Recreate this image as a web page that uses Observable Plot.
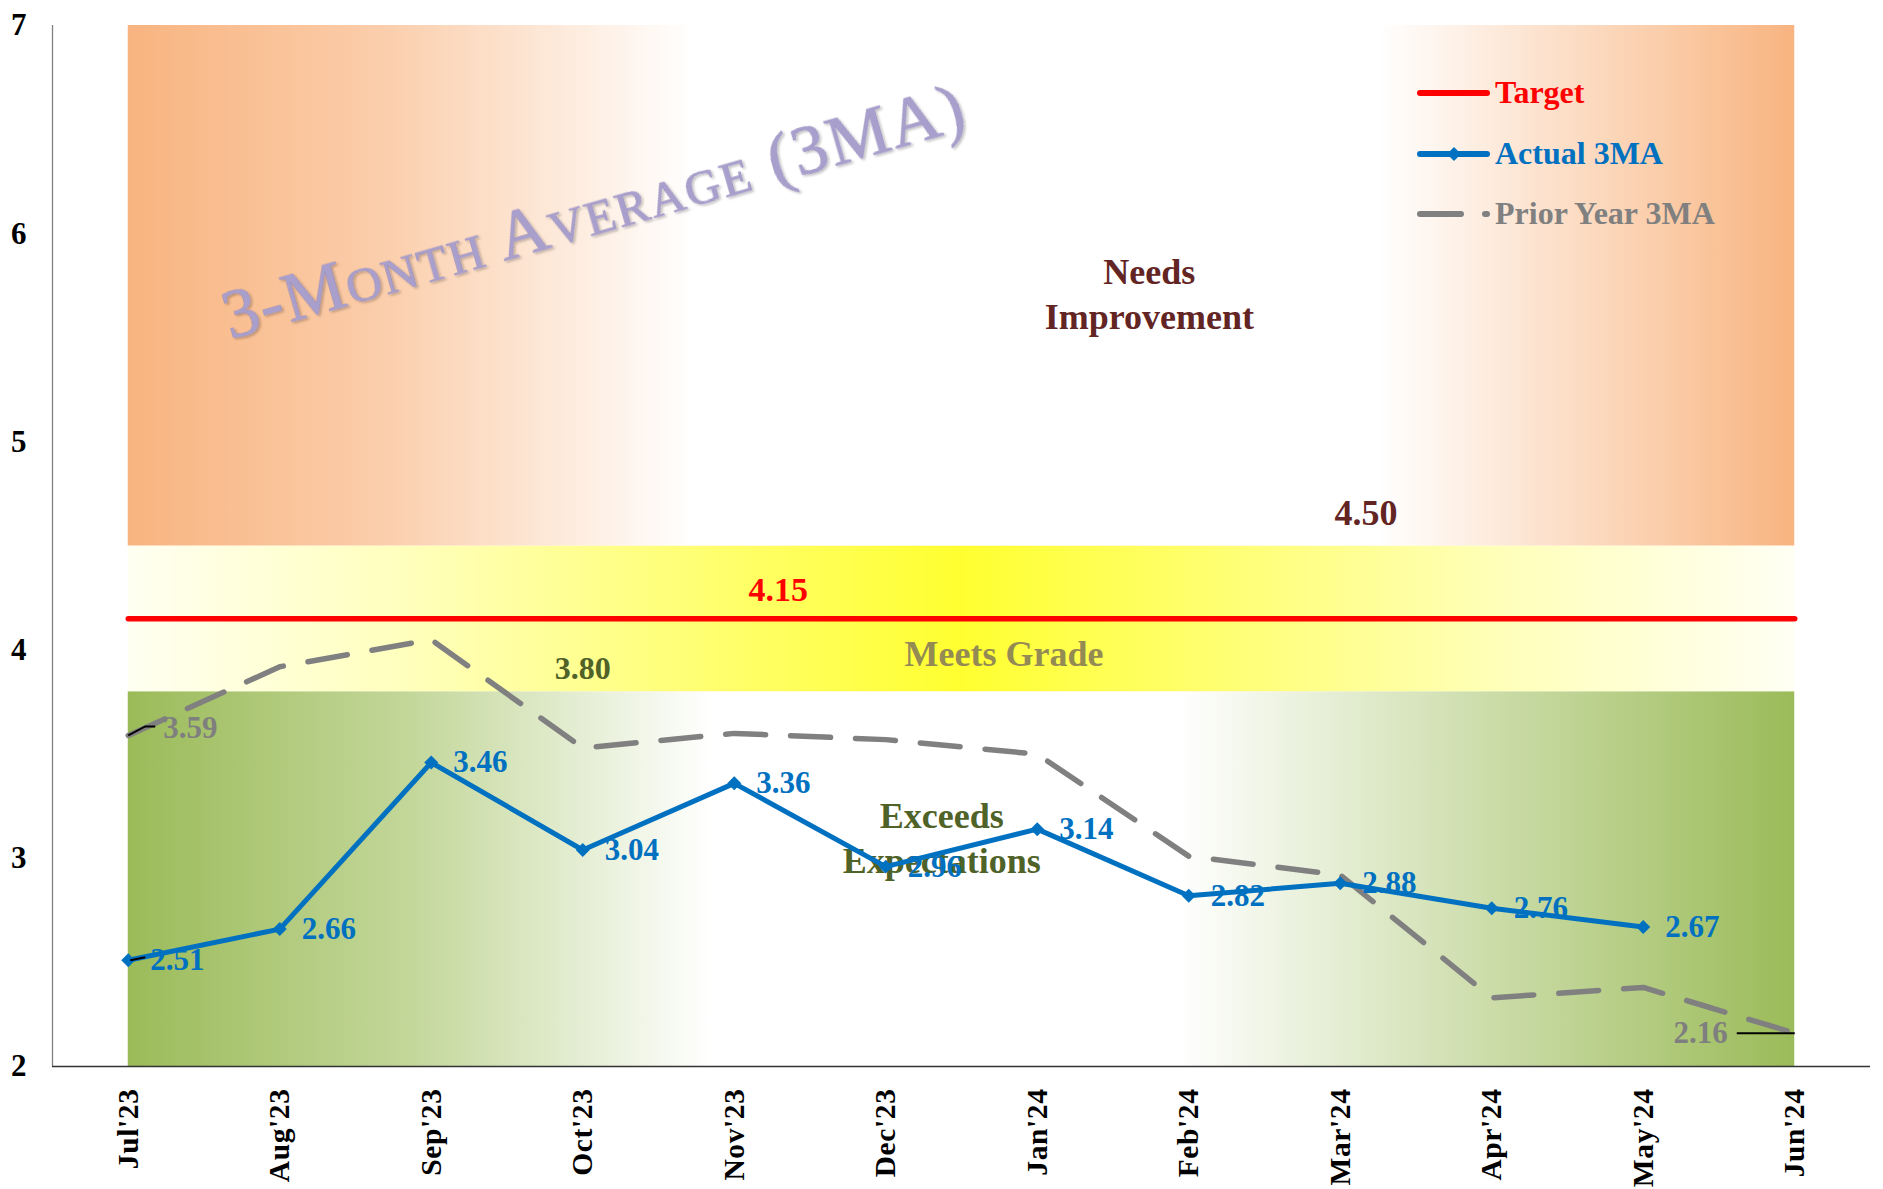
<!DOCTYPE html>
<html>
<head>
<meta charset="utf-8">
<script src="https://cdn.jsdelivr.net/npm/d3@7"></script>
<script src="https://cdn.jsdelivr.net/npm/@observablehq/plot@0.6"></script>
<style>
  html, body { margin: 0; padding: 0; background: #ffffff; }
  svg { display: block; }
</style>
</head>
<body>
<div id="chart"></div>
<script>
// ---------- data ----------
const months = ["Jul'23","Aug'23","Sep'23","Oct'23","Nov'23","Dec'23","Jan'24","Feb'24","Mar'24","Apr'24","May'24","Jun'24"];
const actual3MA = [2.51, 2.66, 3.46, 3.04, 3.36, 2.96, 3.14, 2.82, 2.88, 2.76, 2.67, null];
const priorYear3MA = [3.59, 3.92, 4.05, 3.53, 3.60, 3.57, 3.50, 3.01, 2.92, 2.33, 2.38, 2.16];
const target = [4.15, 4.15, 4.15, 4.15, 4.15, 4.15, 4.15, 4.15, 4.15, 4.15, 4.15, 4.15];
const zoneBounds = [2, 3.8, 4.5, 7];
const zoneNames = ["Exceeds\nExpectations", "Meets Grade", "Needs\nImprovement"];
const yTicks = [2, 3, 4, 5, 6, 7];
const priorLabelIndex = [0, 11];
const seriesNames = ["Target", "Actual 3MA", "Prior Year 3MA"];
const chartTitle = "3-Month Average (3MA)";

// ---------- derived table ----------
const rows = months.map((m, i) => ({i, month: m, actual: actual3MA[i], prior: priorYear3MA[i], target: target[i]}));
const actualRows = rows.filter(d => d.actual != null);
const zones = zoneNames.map((name, k) => ({name, lo: zoneBounds[k], hi: zoneBounds[k + 1]}));
const first = 0, last = months.length - 1;

const FONT = "'Liberation Serif','Times New Roman',Times,serif";
const BLUE = "#0070C0", GRAY = "#808080", RED = "#FF0000";

// custom leader-line symbols
const leader = (pts) => ({draw(ctx) { ctx.moveTo(pts[0][0], pts[0][1]); for (const p of pts.slice(1)) ctx.lineTo(p[0], p[1]); }});

const svg = Plot.plot({
  width: 1883,
  height: 1189,
  marginLeft: 52,
  marginRight: 13,
  marginTop: 25,
  marginBottom: 123,
  x: {type: "linear", domain: [-0.5, months.length - 0.5], axis: null},
  y: {domain: [zoneBounds[0], zoneBounds[3]], axis: null},
  style: {fontFamily: FONT, background: "transparent", overflow: "visible"},
  marks: [
    // performance zones
    Plot.rect([zones[0]], {x1: () => first, x2: () => last, y1: "lo", y2: "hi", fill: "url(#gGreen)"}),
    Plot.rect([zones[1]], {x1: () => first, x2: () => last, y1: "lo", y2: "hi", fill: "url(#gYellow)"}),
    Plot.rect([zones[2]], {x1: () => first, x2: () => last, y1: "lo", y2: "hi", fill: "url(#gOrange)"}),

    // axes
    Plot.ruleX([-0.5], {stroke: "#808080", strokeWidth: 1.3}),
    Plot.ruleY([zoneBounds[0]], {stroke: "#333333", strokeWidth: 1.5}),
    Plot.axisY(yTicks, {tickSize: 0, tickPadding: 26, fontSize: 31, fontWeight: "bold", label: null, tickFormat: d => String(d)}),
    Plot.axisX(rows.map(d => d.i), {tickSize: 0, tickPadding: 22, tickRotate: -90, fontSize: 29.5, fontWeight: "bold", label: null, tickFormat: i => months[i]}),

    // watermark title
    Plot.text([chartTitle], {x: () => 3.11, y: () => 6.0, text: d => d, rotate: -16, textAnchor: "middle", lineAnchor: "bottom",
      fontSize: 70, fontWeight: "normal", fontVariant: "small-caps", fill: "#A99FCC", stroke: "#8B81B6", strokeWidth: 0.7}),

    // zone labels
    Plot.text([zones[2]], {x: () => 6.74, y: () => 5.54, text: "name", lineAnchor: "bottom", lineHeight: 1.25, fontSize: 36, fontWeight: "bold", fill: "#632523"}),
    Plot.text([zones[1]], {x: () => 5.78, y: () => 3.926, text: "name", lineAnchor: "bottom", fontSize: 36, fontWeight: "bold", fill: "#948A54"}),
    Plot.text([zones[0]], {x: () => 5.37, y: () => 2.927, text: "name", lineAnchor: "bottom", lineHeight: 1.25, fontSize: 36, fontWeight: "bold", fill: "#4F6228"}),
    Plot.text([zones[2]], {x: () => 8.17, y: "lo", text: d => d.lo.toFixed(2), lineAnchor: "bottom", dy: -21, fontSize: 36, fontWeight: "bold", fill: "#632523"}),
    Plot.text([zones[1]], {x: () => 3, y: "lo", text: d => d.lo.toFixed(2), lineAnchor: "bottom", dy: -13, fontSize: 32, fontWeight: "bold", fill: "#4F6228"}),

    // target line
    Plot.line(rows, {x: "i", y: "target", stroke: RED, strokeWidth: 5.5, strokeLinecap: "round"}),
    Plot.text([rows[4]], {x: () => 4.29, y: "target", text: d => d.target.toFixed(2), lineAnchor: "bottom", dy: -18, fontSize: 34, fontWeight: "bold", fill: RED}),

    // prior year dashed
    Plot.line(rows, {x: "i", y: "prior", stroke: GRAY, strokeWidth: 5.5, strokeDasharray: "40,25", strokeLinecap: "round"}),

    // actual
    Plot.line(actualRows, {x: "i", y: "actual", stroke: BLUE, strokeWidth: 5, strokeLinejoin: "miter"}),
    Plot.dot(actualRows, {x: "i", y: "actual", symbol: "diamond2", r: 6.3, fill: BLUE, stroke: "none"}),

    // leader lines
    Plot.dot([rows[first]], {x: "i", y: "prior", r: 1, symbol: leader([[0,0],[17,-9],[27,-9]]), stroke: "#000", fill: "none", strokeWidth: 2}),
    Plot.dot([rows[first]], {x: "i", y: "actual", r: 1, symbol: leader([[2,0],[17,-3]]), stroke: "#000", fill: "none", strokeWidth: 2}),
    Plot.dot([rows[last]], {x: "i", y: "prior", r: 1, symbol: leader([[0,0],[-58,0]]), stroke: "#000", fill: "none", strokeWidth: 2}),

    // data labels
    Plot.text(actualRows, {x: "i", y: "actual", text: d => d.actual.toFixed(2), dx: 22, textAnchor: "start", fontSize: 31, fontWeight: "bold", fill: BLUE}),
    Plot.text([rows[priorLabelIndex[0]]], {x: "i", y: "prior", text: d => d.prior.toFixed(2), dx: 35, dy: -7, textAnchor: "start", fontSize: 31, fontWeight: "bold", fill: "#7F7F7F"}),
    Plot.text([rows[priorLabelIndex[1]]], {x: "i", y: "prior", text: d => d.prior.toFixed(2), dx: -67, textAnchor: "end", fontSize: 31, fontWeight: "bold", fill: "#7F7F7F"})
  ]
});

// ---------- gradients & filters ----------
const root = d3.select(svg);
const defs = root.insert("defs", ":first-child");
function grad(id, stops, x2 = 1, y2 = 0) {
  const g = defs.append("linearGradient").attr("id", id).attr("x1", 0).attr("y1", 0).attr("x2", x2).attr("y2", y2);
  for (const [o, c] of stops) g.append("stop").attr("offset", o).attr("stop-color", c);
}
grad("gOrange", [[0, "#F8B480"], [0.15, "#FBCDAA"], [0.34, "#FFFFFF"], [0.75, "#FFFFFF"], [0.9, "#FBD3B4"], [1, "#F8B480"]]);
grad("gYellow", [[0, "#FFFFF2"], [0.18, "#FFFFB8"], [0.5, "#FFFF30"], [0.82, "#FFFFB8"], [1, "#FFFFF4"]]);
grad("gGreen", [[0, "#9BBB59"], [0.17, "#C3D79A"], [0.35, "#FFFFFF"], [0.63, "#FFFFFF"], [0.82, "#CBDCA8"], [1, "#9BBB59"]]);
const f = defs.append("filter").attr("id", "wmShadow").attr("x", "-10%").attr("y", "-30%").attr("width", "120%").attr("height", "160%");
f.append("feDropShadow").attr("dx", 1.5).attr("dy", 2).attr("stdDeviation", 1.2).attr("flood-color", "#000").attr("flood-opacity", 0.25);

root.selectAll("text").filter(function () { return this.textContent === chartTitle; })
  .attr("textLength", 768).attr("lengthAdjust", "spacing").attr("filter", "url(#wmShadow)");

// slight letter spacing on month labels as in the reference
root.selectAll("text").filter(function () { return months.includes(this.textContent); })
  .attr("letter-spacing", 0.6);

// ---------- legend (inside plot area, top right) ----------
const lg = root.append("g").attr("font-family", FONT).attr("font-weight", "bold").attr("font-size", 32).attr("text-anchor", "start");
const legendItems = [
  {name: seriesNames[0], color: RED, y: 93, dash: null, marker: false},
  {name: seriesNames[1], color: BLUE, y: 154, dash: null, marker: true},
  {name: seriesNames[2], color: GRAY, y: 214, dash: "41,24", marker: false}
];
for (const it of legendItems) {
  lg.append("line").attr("x1", 1420).attr("x2", 1487).attr("y1", it.y).attr("y2", it.y)
    .attr("stroke", it.color).attr("stroke-width", 6).attr("stroke-linecap", "round")
    .attr("stroke-dasharray", it.dash);
  if (it.marker) lg.append("path").attr("d", d3.symbol(d3.symbolDiamond2, 125)()).attr("transform", `translate(1454,${it.y})`).attr("fill", it.color);
  lg.append("text").attr("x", 1495).attr("y", it.y + 10).attr("text-anchor", "start").attr("fill", it.color).text(it.name);
}

document.getElementById("chart").appendChild(svg);
</script>
</body>
</html>
